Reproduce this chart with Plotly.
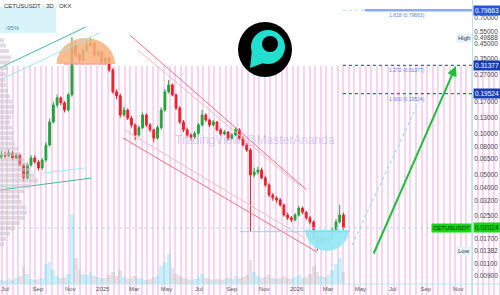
import math
import numpy as np
import pandas as pd
import plotly.graph_objects as go

# ---------------- data ----------------
candle_start = "2024-06-24"
opens = [0.0670, 0.0693, 0.0681, 0.0718, 0.0659, 0.0693, 0.0586, 0.0471, 0.0586, 0.0659,
         0.0616, 0.0557, 0.0637, 0.0820, 0.121, 0.161, 0.182, 0.167, 0.148, 0.191,
         0.443, 0.374, 0.344, 0.407, 0.443, 0.457, 0.374, 0.392, 0.331, 0.354,
         0.291, 0.201, 0.188, 0.136, 0.148, 0.129, 0.115, 0.097, 0.110, 0.136,
         0.115, 0.106, 0.092, 0.110, 0.148, 0.201, 0.226, 0.191, 0.153, 0.121,
         0.106, 0.097, 0.094, 0.100, 0.115, 0.136, 0.125, 0.115, 0.121, 0.106,
         0.099, 0.102, 0.092, 0.097, 0.106, 0.092, 0.082, 0.0754, 0.0495, 0.0520,
         0.0538, 0.0471, 0.0418, 0.0353, 0.0336, 0.0325, 0.0298, 0.0252, 0.0240, 0.0232,
         0.0252, 0.0283, 0.0264, 0.0240, 0.0224, 0.0171, 0.0160, 0.0171, 0.0165, 0.0171,
         0.0196, 0.0224, 0.0252]
highs = [0.0740, 0.0735, 0.0760, 0.0740, 0.0720, 0.0710, 0.0600, 0.0610, 0.0690, 0.0690,
         0.0640, 0.0660, 0.0860, 0.128, 0.170, 0.192, 0.186, 0.172, 0.198, 0.507,
         0.470, 0.390, 0.420, 0.470, 0.49888, 0.465, 0.410, 0.400, 0.365, 0.365,
         0.300, 0.210, 0.195, 0.156, 0.152, 0.134, 0.118, 0.114, 0.142, 0.140,
         0.119, 0.108, 0.114, 0.155, 0.210, 0.245, 0.232, 0.196, 0.158, 0.125,
         0.110, 0.100, 0.104, 0.119, 0.148, 0.140, 0.128, 0.125, 0.123, 0.109,
         0.106, 0.104, 0.100, 0.110, 0.109, 0.095, 0.085, 0.0780, 0.0560, 0.0570,
         0.0560, 0.0490, 0.0430, 0.0365, 0.0345, 0.0335, 0.0305, 0.0262, 0.0248, 0.0260,
         0.0295, 0.0290, 0.0270, 0.0248, 0.0230, 0.0178, 0.0180, 0.0176, 0.0178, 0.0205,
         0.0235, 0.0300, 0.0262]
lows = [0.0650, 0.0660, 0.0665, 0.0640, 0.0645, 0.0570, 0.0445, 0.0460, 0.0570, 0.0600,
        0.0535, 0.0540, 0.0620, 0.0800, 0.118, 0.155, 0.160, 0.142, 0.144, 0.185,
        0.360, 0.330, 0.335, 0.395, 0.430, 0.360, 0.360, 0.320, 0.320, 0.280,
        0.195, 0.178, 0.130, 0.132, 0.125, 0.110, 0.089, 0.094, 0.107, 0.111,
        0.102, 0.086, 0.090, 0.106, 0.144, 0.196, 0.186, 0.148, 0.117, 0.102,
        0.094, 0.090, 0.091, 0.097, 0.112, 0.121, 0.111, 0.112, 0.103, 0.096,
        0.097, 0.089, 0.090, 0.095, 0.089, 0.080, 0.073, 0.0190, 0.0475, 0.0500,
        0.0460, 0.0405, 0.0340, 0.0320, 0.0310, 0.0290, 0.0245, 0.0232, 0.0222, 0.0226,
        0.0245, 0.0255, 0.0232, 0.0215, 0.0165, 0.01382, 0.0152, 0.0155, 0.0158, 0.0165,
        0.0190, 0.0218, 0.0196]
closes = [0.0693, 0.0681, 0.0718, 0.0659, 0.0693, 0.0586, 0.0471, 0.0586, 0.0659, 0.0616,
          0.0557, 0.0637, 0.0820, 0.121, 0.161, 0.182, 0.167, 0.148, 0.191, 0.443,
          0.374, 0.344, 0.407, 0.443, 0.457, 0.374, 0.392, 0.331, 0.354, 0.291,
          0.201, 0.188, 0.136, 0.148, 0.129, 0.115, 0.097, 0.110, 0.136, 0.115,
          0.106, 0.092, 0.110, 0.148, 0.201, 0.226, 0.191, 0.153, 0.121, 0.106,
          0.097, 0.094, 0.100, 0.115, 0.136, 0.125, 0.115, 0.121, 0.106, 0.099,
          0.102, 0.092, 0.097, 0.106, 0.092, 0.082, 0.0754, 0.0495, 0.0520, 0.0538,
          0.0471, 0.0418, 0.0353, 0.0336, 0.0325, 0.0298, 0.0252, 0.0240, 0.0232, 0.0252,
          0.0283, 0.0264, 0.0240, 0.0224, 0.0171, 0.0160, 0.0171, 0.0165, 0.0171, 0.0196,
          0.0224, 0.0252, 0.02024]
volumes = [4, 3, 5, 4, 6, 8, 18, 10, 5, 4, 5, 6, 20, 22, 14, 8, 6, 7, 10, 70,
           26, 14, 10, 9, 12, 8, 7, 6, 6, 9, 12, 8, 14, 7, 5, 6, 8, 6, 5, 4,
           5, 7, 9, 18, 22, 30, 16, 10, 8, 6, 5, 4, 5, 7, 10, 6, 5, 4, 5, 4,
           5, 6, 5, 8, 6, 7, 9, 24, 12, 8, 6, 7, 9, 6, 5, 6, 8, 6, 5, 7,
           9, 6, 7, 10, 18, 12, 8, 7, 9, 14, 20, 26, 12]

month_ticks = ["2024-07-01", "2024-09-01", "2024-11-01", "2025-01-01", "2025-03-01",
               "2025-05-01", "2025-07-01", "2025-09-01", "2025-11-01", "2026-01-01",
               "2026-03-01", "2026-05-01", "2026-07-01", "2026-09-01", "2026-11-01"]
month_labels = ["Jul", "Sep", "Nov", "2025", "Mar", "May", "Jul", "Sep", "Nov", "2026",
                "Mar", "May", "Jul", "Sep", "Nov"]

price_ticks = [0.9, 0.7, 0.55, 0.49888, 0.45, 0.35, 0.27, 0.17, 0.13, 0.10, 0.08,
               0.065, 0.05, 0.04, 0.032, 0.025, 0.017, 0.01382, 0.011, 0.009]

fib_ratios = ["1.618", "1.272", "1.000"]
fib_values = [0.79663, 0.31377, 0.19524]
last_price = 0.02024
high_price = 0.49888
low_price = 0.01382

profile_prices = [0.48, 0.44, 0.40, 0.36, 0.33, 0.30, 0.27, 0.245, 0.225, 0.205, 0.187,
                  0.171, 0.156, 0.143, 0.131, 0.120, 0.110, 0.100, 0.092, 0.084, 0.077,
                  0.070, 0.064, 0.059, 0.054, 0.049, 0.045, 0.041, 0.0375, 0.0343, 0.0314,
                  0.0287, 0.0262, 0.0240, 0.0220, 0.0201, 0.0184, 0.0168, 0.0154]
profile_sizes = [4, 6, 9, 11, 10, 8, 6, 5, 6, 8, 10, 12, 14, 13, 11, 10, 12, 14, 13, 15,
                 18, 20, 24, 28, 30, 34, 38, 30, 24, 20, 22, 26, 27, 25, 20, 15, 10, 6, 4]

# trend-line drawings (date, price)
red_upper = (["2025-02-21", "2026-01-20"], [0.524, 0.0384])
red_upper_faint = (["2025-03-08", "2026-01-07"], [0.407, 0.0411])
red_lower = (["2025-02-08", "2026-02-08"], [0.0923, 0.0135])
red_lower_faint = (["2025-02-11", "2026-01-16"], [0.1057, 0.0171])
green_upper = (["2024-06-21", "2024-11-30"], [0.301, 0.600])
cyan_upper = (["2024-06-21", "2024-12-26"], [0.245, 0.543])
green_lower = (["2024-06-21", "2024-12-11"], [0.0384, 0.0470])
cyan_lower = (["2024-09-10", "2024-11-28"], [0.0511, 0.0556])
projection = (["2026-04-15", "2026-08-17"], [0.0152, 0.164])
neckline = (["2025-09-16", "2026-04-11"], [0.0190, 0.0190])

X_START, X_END = "2024-06-21 14:00", "2026-11-27"
FIB_START, FIB_SOLID = "2026-03-29", "2026-05-09"

# ---------------- figure ----------------
W, H = 500, 295
fig = go.Figure()

# background stripes (decorative pattern, pixel subplot)
stripe_x = np.arange(1.5, W, 5.6)
fig.add_trace(go.Bar(x=stripe_x, y=[H - 66] * len(stripe_x), width=2.0,
                     marker=dict(color="#f8d3f4", line=dict(width=0)),
                     xaxis="x", yaxis="y", hoverinfo="skip", showlegend=False))

def ellipse_half(center, half_days, base, tip, n=60):
    t = np.linspace(0, np.pi, n)
    d = pd.Timestamp(center) + pd.to_timedelta(-half_days * np.cos(t), unit="D")
    lb, lt = math.log10(base), math.log10(tip)
    return list(d), list(10 ** (lb + (lt - lb) * np.sin(t)))

# dome (rounded top)
dx, dy = ellipse_half("2024-11-30", 55, 0.321, 0.499)
fig.add_trace(go.Scatter(x=dx, y=dy, fill="toself", fillcolor="rgba(248,178,125,0.85)",
                         mode="lines", line=dict(width=0), xaxis="x2", yaxis="y2",
                         hoverinfo="skip", showlegend=False))
fig.add_trace(go.Scatter(x=["2024-10-20", "2025-01-10"], y=[0.321, 0.321], mode="lines",
                         line=dict(color="#f09090", width=1), xaxis="x2", yaxis="y2",
                         hoverinfo="skip", showlegend=False))
# bowl (rounded bottom)
bx, by = ellipse_half("2026-02-27", 41, 0.0196, 0.0137)
fig.add_trace(go.Scatter(x=bx, y=by, fill="toself", fillcolor="rgba(150,232,246,0.95)",
                         mode="lines", line=dict(width=0), xaxis="x2", yaxis="y2",
                         hoverinfo="skip", showlegend=False))

# volume profile on the left (overlay x axis in pixels)
px_, py_ = [], []
for p, s in zip(profile_prices, profile_sizes):
    px_ += [0, s, None]
    py_ += [p, p, None]
fig.add_trace(go.Scatter(x=px_, y=py_, mode="lines",
                         line=dict(color="rgba(205,195,205,0.6)", width=4),
                         xaxis="x3", yaxis="y2", hoverinfo="skip", showlegend=False))

def seg(pts, color, width=1, dash="solid"):
    fig.add_trace(go.Scatter(x=pts[0], y=pts[1], mode="lines",
                             line=dict(color=color, width=width, dash=dash),
                             xaxis="x2", yaxis="y2", hoverinfo="skip", showlegend=False))

seg(red_upper, "#f0707a", 1)
seg(red_upper_faint, "#f5b8c0", 1)
seg(red_lower, "#f0707a", 1)
seg(red_lower_faint, "#f5b8c0", 1)
seg(green_upper, "#41b89a", 1)
seg(cyan_upper, "#9de8f2", 1)
seg(green_lower, "#41b89a", 1)
seg(cyan_lower, "#9de8f2", 1)
seg(projection, "#8fe0ee", 1.2, "dot")
seg(neckline, "#86d8f0", 1)
seg(([X_START, X_END], [last_price, last_price]), "#a8dcef", 1, "dot")

# fib levels
seg(([FIB_START, FIB_SOLID], [fib_values[0]] * 2), "#a8e4f2", 1.2, "dot")
seg(([FIB_SOLID, X_END], [fib_values[0]] * 2), "#8faaf0", 2.6)
for v in fib_values[1:]:
    seg(([FIB_START, X_END], [v, v]), "#2f5fe0", 1.2, "dot")

# volume
vol_colors = ["rgba(110,225,235,0.4)" if c >= o else "rgba(185,185,185,0.4)"
              for o, c in zip(opens, closes)]
dates = pd.date_range(candle_start, periods=len(closes), freq="7D")
fig.add_trace(go.Bar(x=dates, y=volumes, marker=dict(color=vol_colors, line=dict(width=0)),
                     xaxis="x2", yaxis="y3", hoverinfo="skip", showlegend=False))

# candles
fig.add_trace(go.Candlestick(x=dates, open=opens, high=highs, low=lows, close=closes,
                             increasing=dict(line=dict(color="#22a33a", width=1), fillcolor="#22a33a"),
                             decreasing=dict(line=dict(color="#f2202a", width=1), fillcolor="#f2202a"),
                             whiskerwidth=0, xaxis="x2", yaxis="y2", showlegend=False))

FONT = "Liberation Sans"
ann = []
# highlighted price-axis labels
def axis_label(v, bg, fg):
    ann.append(dict(xref="paper", yref="y2", x=472 / W + 0.002, y=math.log10(v), xanchor="left",
                    yanchor="middle", text=f"{v:.5f}", showarrow=False, bgcolor=bg,
                    font=dict(family=FONT, size=6.5, color=fg), borderpad=1))

axis_label(fib_values[0], "#2456d6", "white")
axis_label(fib_values[1], "#1a3fb5", "white")
axis_label(fib_values[2], "#1a3fb5", "white")
axis_label(last_price, "#14d814", "#0a2a0a")
ann.append(dict(xref="paper", yref="y2", x=472 / W, y=math.log10(last_price), xanchor="right",
                yanchor="middle", text="CETUSUSDT", showarrow=False, bgcolor="#14d814",
                font=dict(family=FONT, size=6, color="#0a2a0a"), borderpad=1))
for label, v in (("High", high_price), ("Low", low_price)):
    ann.append(dict(xref="paper", yref="y2", x=472 / W, y=math.log10(v), xanchor="right",
                    yanchor="middle", text=label, showarrow=False, bgcolor="#e4f3fb",
                    font=dict(family=FONT, size=6, color="#333"), borderpad=1))
# fib captions
for r, v in zip(fib_ratios, fib_values):
    ann.append(dict(xref="x2", yref="y2", x="2026-07-27", y=math.log10(v), yshift=-5,
                    text=f"{r} ({v:.5f})", showarrow=False,
                    font=dict(family=FONT, size=5, color="#5a7de0")))
# title + watermark
ann.append(dict(xref="paper", yref="paper", x=0.004, y=0.995, xanchor="left", yanchor="top",
                text="CETUSUSDT · 3D · OKX", showarrow=False,
                font=dict(family=FONT, size=6, color="#333")))
ann.append(dict(xref="paper", yref="paper", x=0.005, y=1 - 28 / H, xanchor="left", yanchor="middle",
                text="-95%", showarrow=False, font=dict(family=FONT, size=6, color="#4a8fa0")))
ann.append(dict(xref="paper", yref="paper", x=255 / W, y=1 - 140 / H, xanchor="center",
                yanchor="middle", text="TradingView @MasterAnanda", showarrow=False,
                font=dict(family=FONT, size=12, color="rgba(150,150,225,0.45)")))
# arrow
ann.append(dict(xref="paper", yref="paper", x=456 / W, y=1 - 66 / H, ax=-83, ay=189,
                text="", showarrow=True, arrowhead=2, arrowsize=1, arrowwidth=2,
                arrowcolor="#1fbf3a"))

shapes = [
    # -95% box
    dict(type="rect", xref="paper", yref="paper", x0=0, x1=56 / W, y0=1 - 33 / H, y1=1 - 7 / H,
         fillcolor="rgba(200,240,248,0.7)", line=dict(width=0), layer="below"),
    # axis lines
    dict(type="line", xref="paper", yref="paper", x0=0, x1=1, y0=1 - 284 / H, y1=1 - 284 / H,
         line=dict(color="#b7e6f2", width=1)),
    # logo
    dict(type="circle", xref="paper", yref="paper", x0=238 / W, x1=292 / W,
         y0=1 - 77 / H, y1=1 - 22 / H, fillcolor="black", line=dict(width=0), layer="above"),
    dict(type="circle", xref="paper", yref="paper", x0=251 / W, x1=285 / W,
         y0=1 - 64 / H, y1=1 - 30 / H, fillcolor="#22e0d0", line=dict(width=0), layer="above"),
    dict(type="path", xref="paper", yref="paper",
         path=f"M {252/W},{1-50/H} L {250/W},{1-68/H} L {266/W},{1-62/H} Z",
         fillcolor="#22e0d0", line=dict(width=0), layer="above"),
    dict(type="circle", xref="paper", yref="paper", x0=262 / W, x1=278 / W,
         y0=1 - 52 / H, y1=1 - 36 / H, fillcolor="black", line=dict(width=0), layer="above"),
]

fig.update_layout(
    width=W, height=H, margin=dict(l=0, r=0, t=0, b=0),
    paper_bgcolor="white", plot_bgcolor="rgba(0,0,0,0)",
    bargap=0, barmode="overlay",
    xaxis=dict(domain=[0, 1], range=[0, W], visible=False, fixedrange=True),
    yaxis=dict(domain=[0, 1], range=[0, H], visible=False, fixedrange=True),
    xaxis2=dict(domain=[0, 472 / W], anchor="y2", type="date", range=[X_START, X_END],
                tickvals=month_ticks, ticktext=month_labels, ticklabelposition="inside",
                ticks="", showgrid=False, zeroline=False, showline=False,
                rangeslider=dict(visible=False),
                tickfont=dict(family=FONT, size=6, color="#555")),
    xaxis3=dict(overlaying="x2", range=[0, 472], visible=False, anchor="y2"),
    yaxis2=dict(domain=[0, 1], anchor="x2", type="log", range=[-2.185, -0.0238], side="right",
                tickvals=price_ticks, ticktext=[f"{v:.5f}" for v in price_ticks],
                ticks="", showgrid=False, zeroline=False, showline=True,
                linecolor="#b7e6f2", linewidth=1,
                tickfont=dict(family=FONT, size=6.5, color="#444")),
    yaxis3=dict(overlaying="y2", range=[-11, 284], visible=False, anchor="x2"),
    annotations=ann, shapes=shapes, showlegend=False,
)

fig.write_html("out.html")
